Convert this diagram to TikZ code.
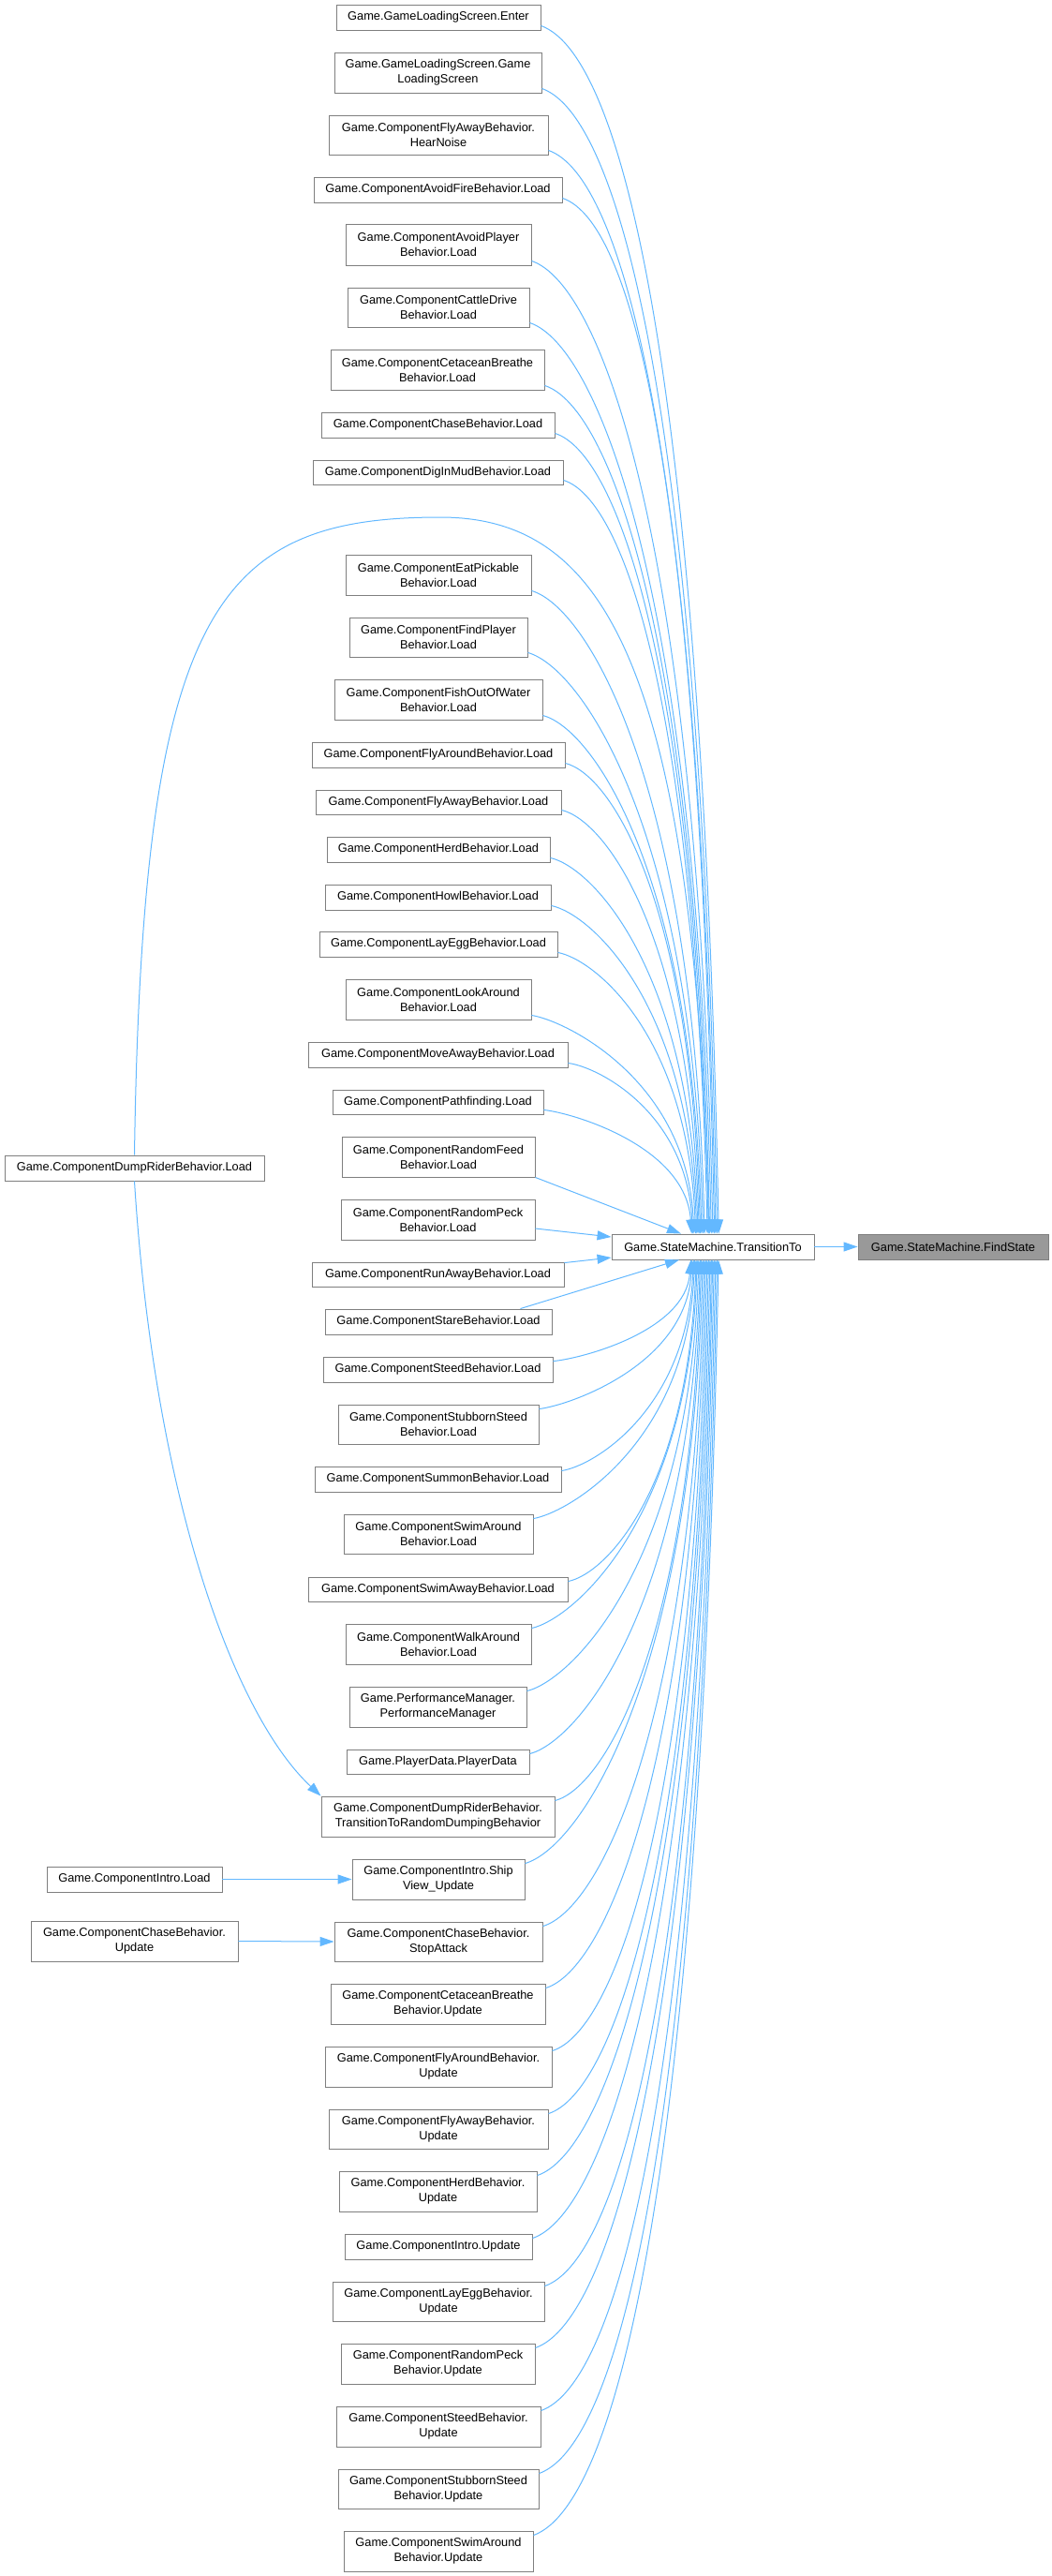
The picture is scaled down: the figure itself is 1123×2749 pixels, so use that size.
\documentclass[tikz,border=0pt]{standalone}
\usepackage{fontspec}
\setmainfont{Liberation Sans}
\usetikzlibrary{arrows.meta,calc}
\definecolor{edgec}{HTML}{63B8FF}
\definecolor{boxborder}{HTML}{7F7F7F}
\definecolor{hlfill}{HTML}{999999}
\tikzset{
  box/.style={draw=boxborder, fill=white, line width=0.9pt, inner sep=0pt, align=center, font=\fontsize{12.8}{16}\selectfont},
  hlbox/.style={box, fill=hlfill},
  edge/.style={draw=edgec, line width=1pt, -{Triangle[length=15pt,width=10pt]}},
}
\newcommand\mybox[7][box]{%
 \pgfmathsetmacro\myBW{#5-#3}\pgfmathsetmacro\myBH{#6-#4}%
 \pgfmathsetmacro\myCX{(#3+#5)/2}\pgfmathsetmacro\myCY{(#4+#6)/2}%
 \node[#1, minimum width=\myBW pt, minimum height=\myBH pt] (#2) at (\myCX,\myCY) {#7};}
\newcommand\tedge[2]{\draw[edge] ([yshift=5pt]#1.south east) .. controls +({25+0.05*#2},{0.025*#2}) and +({-5-0.01*#2},{-0.7*#2}) .. ([xshift={(-26+0.025*#2)*1pt}]tt.north);}
\newcommand\bedge[2]{\draw[edge] ([yshift=-5pt]#1.north east) .. controls +({25+0.05*#2},{-0.025*#2}) and +({-5-0.01*#2},{0.7*#2}) .. ([xshift={(-26+0.0235*#2)*1pt}]tt.south);}
\begin{document}
\begin{tikzpicture}[x=1pt,y=-1pt]
\useasboundingbox (0,0) rectangle (1123,2749);
% main nodes
\mybox{tt}{653}{1317}{869}{1344}{Game.StateMachine.TransitionTo}
\mybox[hlbox]{fs}{916}{1317}{1119}{1344}{Game.StateMachine.FindState}
% left nodes
\mybox{drl}{5}{1233}{282}{1260}{Game.ComponentDumpRiderBehavior.Load}
\mybox{il}{50}{1992}{237}{2019}{Game.ComponentIntro.Load}
\mybox{cu}{33}{2050}{254}{2093}{Game.ComponentChaseBehavior.\\Update}
% column nodes
\mybox{enter}{359}{5}{577}{32}{Game.GameLoadingScreen.Enter}
\mybox{gls}{357}{56}{578}{99}{Game.GameLoadingScreen.Game\\LoadingScreen}
\mybox{hear}{351}{123}{585}{165}{Game.ComponentFlyAwayBehavior.\\HearNoise}
\mybox{avoidfire}{335}{189}{600}{216}{Game.ComponentAvoidFireBehavior.Load}
\mybox{avoidplayer}{369}{239}{567}{283}{Game.ComponentAvoidPlayer\\Behavior.Load}
\mybox{cattle}{371}{307}{565}{349}{Game.ComponentCattleDrive\\Behavior.Load}
\mybox{cetload}{353}{373}{581}{416}{Game.ComponentCetaceanBreathe\\Behavior.Load}
\mybox{chaseload}{343}{440}{592}{467}{Game.ComponentChaseBehavior.Load}
\mybox{digin}{334}{491}{601}{517}{Game.ComponentDigInMudBehavior.Load}
\mybox{eat}{369}{592}{567}{635}{Game.ComponentEatPickable\\Behavior.Load}
\mybox{findplayer}{373}{659}{563}{701}{Game.ComponentFindPlayer\\Behavior.Load}
\mybox{fish}{357}{725}{579}{768}{Game.ComponentFishOutOfWater\\Behavior.Load}
\mybox{flyaroundload}{333}{792}{603}{819}{Game.ComponentFlyAroundBehavior.Load}
\mybox{flyawayload}{337}{843}{599}{869}{Game.ComponentFlyAwayBehavior.Load}
\mybox{herdload}{349}{893}{587}{920}{Game.ComponentHerdBehavior.Load}
\mybox{howl}{347}{944}{588}{971}{Game.ComponentHowlBehavior.Load}
\mybox{layeggload}{341}{994}{595}{1021}{Game.ComponentLayEggBehavior.Load}
\mybox{lookaround}{369}{1045}{567}{1088}{Game.ComponentLookAround\\Behavior.Load}
\mybox{moveaway}{329}{1112}{606}{1139}{Game.ComponentMoveAwayBehavior.Load}
\mybox{pathfinding}{355}{1163}{580}{1189}{Game.ComponentPathfinding.Load}
\mybox{randomfeed}{365}{1213}{571}{1256}{Game.ComponentRandomFeed\\Behavior.Load}
\mybox{randompeckload}{364}{1280}{571}{1323}{Game.ComponentRandomPeck\\Behavior.Load}
\mybox{runaway}{333}{1347}{602}{1373}{Game.ComponentRunAwayBehavior.Load}
\mybox{stare}{347}{1397}{589}{1424}{Game.ComponentStareBehavior.Load}
\mybox{steedload}{345}{1448}{590}{1475}{Game.ComponentSteedBehavior.Load}
\mybox{stubbornload}{361}{1499}{575}{1541}{Game.ComponentStubbornSteed\\Behavior.Load}
\mybox{summon}{336}{1565}{599}{1592}{Game.ComponentSummonBehavior.Load}
\mybox{swimaroundload}{367}{1616}{569}{1658}{Game.ComponentSwimAround\\Behavior.Load}
\mybox{swimaway}{329}{1683}{606}{1709}{Game.ComponentSwimAwayBehavior.Load}
\mybox{walkaround}{369}{1733}{567}{1776}{Game.ComponentWalkAround\\Behavior.Load}
\mybox{perfmgr}{373}{1800}{562}{1843}{Game.PerformanceManager.\\PerformanceManager}
\mybox{playerdata}{370}{1867}{565}{1893}{Game.PlayerData.PlayerData}
\mybox{dumptrans}{343}{1917}{592}{1960}{Game.ComponentDumpRiderBehavior.\\TransitionToRandomDumpingBehavior}
\mybox{shipview}{376}{1984}{560}{2027}{Game.ComponentIntro.Ship\\View\_Update}
\mybox{stopattack}{357}{2051}{579}{2093}{Game.ComponentChaseBehavior.\\StopAttack}
\mybox{cetupdate}{353}{2117}{582}{2160}{Game.ComponentCetaceanBreathe\\Behavior.Update}
\mybox{flyaroundupdate}{347}{2184}{589}{2227}{Game.ComponentFlyAroundBehavior.\\Update}
\mybox{flyawayupdate}{351}{2251}{585}{2293}{Game.ComponentFlyAwayBehavior.\\Update}
\mybox{herdupdate}{362}{2317}{573}{2360}{Game.ComponentHerdBehavior.\\Update}
\mybox{introupdate}{368}{2384}{568}{2411}{Game.ComponentIntro.Update}
\mybox{layeggupdate}{355}{2435}{581}{2477}{Game.ComponentLayEggBehavior.\\Update}
\mybox{randompeckupdate}{364}{2501}{571}{2544}{Game.ComponentRandomPeck\\Behavior.Update}
\mybox{steedupdate}{359}{2568}{577}{2611}{Game.ComponentSteedBehavior.\\Update}
\mybox{stubbornupdate}{361}{2635}{575}{2677}{Game.ComponentStubbornSteed\\Behavior.Update}
\mybox{swimaroundupdate}{367}{2701}{569}{2744}{Game.ComponentSwimAround\\Behavior.Update}
% edges, upper group
\tedge{enter}{1290}
\tedge{gls}{1223}
\tedge{hear}{1157}
\tedge{avoidfire}{1106}
\tedge{avoidplayer}{1039}
\tedge{cattle}{973}
\tedge{cetload}{906}
\tedge{chaseload}{855}
\tedge{digin}{805}
\tedge{eat}{687}
\tedge{findplayer}{621}
\tedge{fish}{554}
\tedge{flyaroundload}{503}
\tedge{flyawayload}{453}
\tedge{herdload}{402}
\tedge{howl}{351}
\tedge{layeggload}{301}
\tedge{lookaround}{234}
\tedge{moveaway}{183}
\tedge{pathfinding}{133}
% near edges
\draw[edge] (randomfeed.south east) -- ([xshift=-34pt]tt.north);
\draw[edge] ([yshift=-9.5pt]randompeckload.east) -- ([yshift=10.5pt]tt.west);
\draw[edge] ([yshift=-1pt]runaway.north east) -- ([yshift=-11.5pt]tt.west);
\draw[edge] ([xshift=-34pt]stare.north east) -- ([xshift=-36pt]tt.south);
% edges, lower group
\bedge{steedload}{109}
\bedge{stubbornload}{160}
\bedge{summon}{226}
\bedge{swimaroundload}{277}
\bedge{swimaway}{344}
\bedge{walkaround}{394}
\bedge{perfmgr}{461}
\bedge{playerdata}{528}
\bedge{dumptrans}{578}
\bedge{shipview}{645}
\bedge{stopattack}{712}
\bedge{cetupdate}{778}
\bedge{flyaroundupdate}{845}
\bedge{flyawayupdate}{912}
\bedge{herdupdate}{978}
\bedge{introupdate}{1045}
\bedge{layeggupdate}{1096}
\bedge{randompeckupdate}{1162}
\bedge{steedupdate}{1229}
\bedge{stubbornupdate}{1296}
\bedge{swimaroundupdate}{1362}
% left side edges
\coordinate (peak) at (470,552);
\draw[edge] (drl.north) .. controls (152,650) and (230,552) .. (peak) .. controls (640,552) and (740,700) .. ([xshift=-4pt]tt.north);
\draw[edge] (drl.south) .. controls (165,1600) and (250,1830) .. (dumptrans.north west);
\draw[edge] (il.east) -- (shipview.west);
\draw[edge] (cu.east) -- (stopattack.west);
\draw[edge] (tt.east) -- (fs.west);
\end{tikzpicture}
\end{document}
